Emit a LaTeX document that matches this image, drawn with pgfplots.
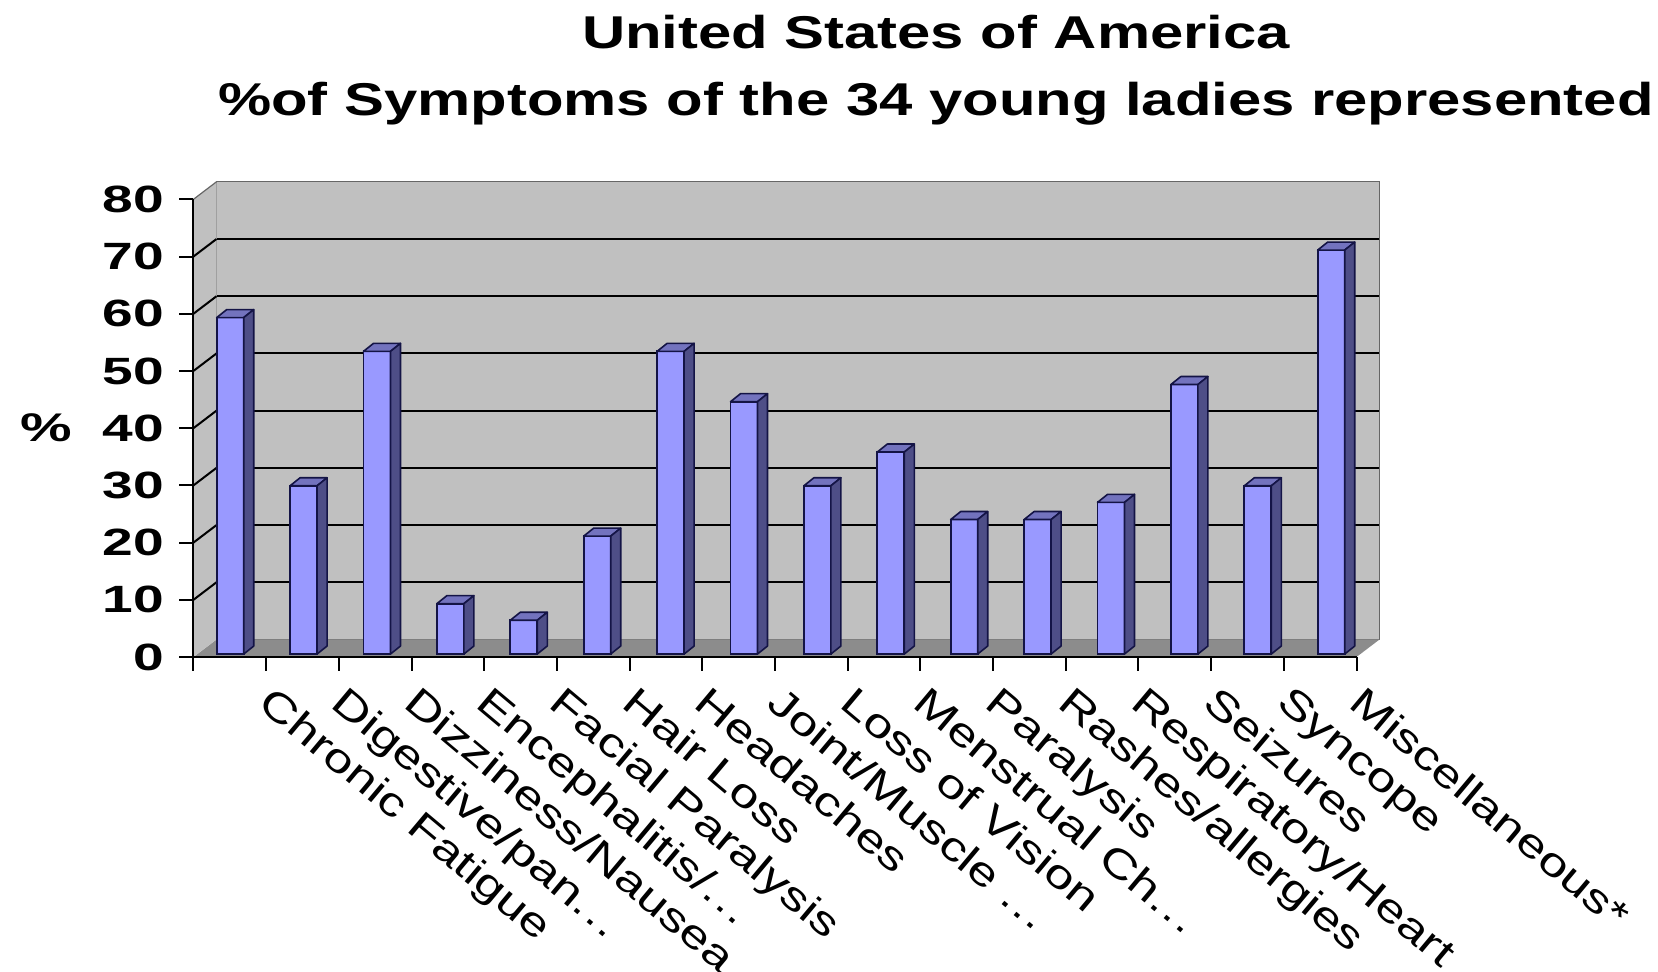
\documentclass[border=0pt]{standalone}
\usepackage{fontspec}
\setmainfont{Liberation Sans}
\newfontfamily\widefont{Liberation Sans}[FakeStretch=1.3]
\newfontfamily\numfont{Liberation Sans}[FakeStretch=1.45]
\usepackage{pgfplots}
\usepackage{pgfplotstable}
\pgfplotsset{compat=1.18}

\definecolor{wallgray}{RGB}{192,192,192}
\definecolor{floorgray}{RGB}{140,140,140}
\definecolor{barfront}{RGB}{153,153,255}
\definecolor{bartop}{RGB}{115,115,190}
\definecolor{barside}{RGB}{78,78,135}
\definecolor{baredge}{RGB}{20,20,70}

\pgfplotstableread{
x v
0 58.8
1 29.4
2 52.9
3 8.8
4 5.9
5 20.6
6 52.9
7 44.1
8 29.4
9 35.3
10 23.5
11 23.5
12 26.5
13 47.1
14 29.4
15 70.6
}\symptoms

\newcommand{\dd}{.\kern0.05em.\kern0.05em.}

\pgfdeclareplotmark{bar3d}{%
  \pgfsetlinewidth{0.8pt}%
  \pgfsetstrokecolor{baredge}%
  \pgfsetroundjoin
  \pgfsetfillcolor{bartop}%
  \pgfpathmoveto{\pgfpoint{-6.75pt}{0pt}}%
  \pgfpathlineto{\pgfpoint{-1.75pt}{4pt}}%
  \pgfpathlineto{\pgfpoint{11.75pt}{4pt}}%
  \pgfpathlineto{\pgfpoint{6.75pt}{0pt}}%
  \pgfpathclose
  \pgfusepath{fill,stroke}%
  \pgfsetfillcolor{barside}%
  \pgfpathmoveto{\pgfpoint{6.75pt}{0pt}}%
  \pgfpathlineto{\pgfpoint{11.75pt}{4pt}}%
  \pgfpathlineto{\pgfpoint{11.75pt}{4pt-\bv*2.86125pt}}%
  \pgfpathlineto{\pgfpoint{6.75pt}{-\bv*2.86125pt}}%
  \pgfpathclose
  \pgfusepath{fill,stroke}%
}

\begin{document}
\begin{tikzpicture}
\path[use as bounding box] (-96.75pt,-157.5pt) rectangle (732.25pt,328.5pt);

% back wall
\begin{axis}[
  at={(11.5pt,8.75pt)}, anchor=south west,
  scale only axis, width=581.5pt, height=228.85pt,
  xmin=-0.5, xmax=15.5, ymin=0, ymax=80,
  axis background/.style={fill=wallgray},
  axis line style={draw=gray!80!black, line width=0.6pt},
  xtick=\empty, ytick={10,20,...,70}, yticklabels={},
  major tick length=0pt,
  ymajorgrids, major grid style={black, line width=1pt},
]
\end{axis}

% floor and left wall
\fill[floorgray] (0pt,0pt) -- (581.5pt,0pt) -- (593pt,8.75pt) -- (11.5pt,8.75pt) -- cycle;
\fill[wallgray] (0pt,0pt) -- (11.5pt,8.75pt) -- (11.5pt,237.6pt) -- (0pt,228.85pt) -- cycle;
\draw[gray!80!black, line width=0.6pt] (0pt,228.85pt) -- (11.5pt,237.6pt);
\foreach \k in {1,...,7} {
  \draw[black, line width=1pt] (0pt,\k*28.606pt) -- (11.5pt,\k*28.606pt+8.75pt);
}

% bars
\begin{axis}[
  at={(0pt,1.5pt)}, anchor=south west,
  scale only axis, width=587.2pt, height=228.85pt,
  xmin=-0.5, xmax=15.5, ymin=0, ymax=80,
  hide axis, clip=false,
]
\addplot[ybar, bar width=13.5pt, fill=barfront, draw=baredge, line width=0.9pt]
  table[x=x, y=v] {\symptoms};
\addplot[scatter, only marks, mark=bar3d,
  scatter/@pre marker code/.code={},
  scatter/@post marker code/.code={},
  visualization depends on={\thisrow{v} \as \bv}]
  table[x=x, y=v] {\symptoms};
\end{axis}

% front axis
\begin{axis}[
  at={(0pt,0pt)}, anchor=south west,
  scale only axis, width=581.5pt, height=228.85pt,
  xmin=-0.5, xmax=15.5, ymin=0, ymax=80,
  axis x line*=bottom, axis y line*=left,
  axis line style={black, line width=1pt, -},
  tick align=outside, major tick length=7pt,
  tick style={black, line width=1pt},
  ytick={0,10,...,80},
  /pgf/number format/assume math mode=true,
  yticklabel style={font=\numfont\bfseries\fontsize{19pt}{21pt}\selectfont, anchor=east, inner sep=0pt, xshift=-7.5pt},
  xtick={-0.5,0.5,...,15.5},
  xticklabels={{},{Chronic Fatigue},{Digestive/pan\dd},{Dizziness/Nausea},{Encephalitis/\dd},{Facial Paralysis},{Hair Loss},{Headaches},{Joint/Muscle \dd},{Loss of Vision},{Menstrual Ch\dd},{Paralysis},{Rashes/allergies},{Respiratory/Heart},{Seizures},{Syncope},{Miscellaneous*}},
  xticklabel style={font=\widefont\fontsize{20pt}{22pt}\selectfont, rotate=-40, anchor=north west, inner sep=0pt, xshift=7.6pt, yshift=-1.9pt},
  ylabel={\%},
  every axis y label/.style={at={(axis description cs:0,0.5)}, anchor=center, xshift=-73.75pt, font=\numfont\bfseries\fontsize{20pt}{22pt}\selectfont},
]
\end{axis}

\node[font=\widefont\bfseries\fontsize{23pt}{26pt}\selectfont, anchor=base] at (371.25pt,304pt) {United States of America};
\node[font=\widefont\bfseries\fontsize{23pt}{26pt}\selectfont, anchor=base] at (371.25pt,270.5pt) {\%of Symptoms of the 34 young ladies represented};
\end{tikzpicture}
\end{document}
